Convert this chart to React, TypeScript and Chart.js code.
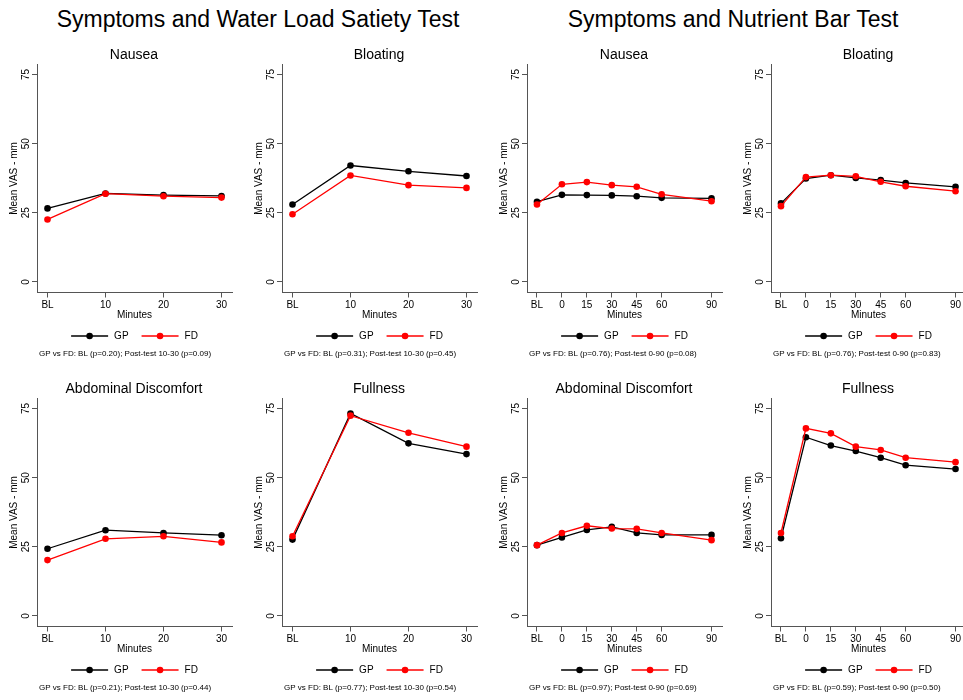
import React, { useEffect, useRef } from 'react';
import { Chart, registerables } from 'chart.js';

Chart.register(...registerables);

const FONT = '"Liberation Sans", Arial, Helvetica, sans-serif';
Chart.defaults.font.family = FONT;
Chart.defaults.color = '#000000';

// ---------- data ----------
const waterMinutes = [0, 10, 20, 30];
const waterTickLabels = ['BL', '10', '20', '30'];
const nutrientMinutes = [-15, 0, 15, 30, 45, 60, 90];
const nutrientTickLabels = ['BL', '0', '15', '30', '45', '60', '90'];
const yTickValues = [0, 25, 50, 75];
const seriesNames = ['GP', 'FD'];

const waterNauseaGP = [26.6, 32.0, 31.4, 31.1];
const waterNauseaFD = [22.6, 31.9, 31.0, 30.5];
const waterBloatingGP = [28.0, 42.1, 40.0, 38.3];
const waterBloatingFD = [24.5, 38.5, 35.0, 34.0];
const waterDiscomfortGP = [24.3, 31.0, 30.0, 29.2];
const waterDiscomfortFD = [20.2, 27.9, 28.8, 26.6];
const waterFullnessGP = [27.6, 73.2, 62.4, 58.5];
const waterFullnessFD = [28.8, 72.4, 66.2, 61.2];

const nutrientNauseaGP = [29.0, 31.5, 31.4, 31.3, 31.0, 30.4, 30.2];
const nutrientNauseaFD = [28.0, 35.3, 36.1, 35.0, 34.4, 31.7, 29.2];
const nutrientBloatingGP = [28.4, 37.4, 38.6, 37.6, 36.8, 35.8, 34.4];
const nutrientBloatingFD = [27.4, 37.9, 38.6, 38.2, 36.2, 34.6, 32.8];
const nutrientDiscomfortGP = [25.6, 28.4, 31.1, 32.2, 30.0, 29.3, 29.3];
const nutrientDiscomfortFD = [25.6, 30.0, 32.6, 31.6, 31.5, 30.0, 27.4];
const nutrientFullnessGP = [28.1, 64.6, 61.6, 59.6, 57.2, 54.5, 53.1];
const nutrientFullnessFD = [30.0, 67.8, 66.0, 61.2, 60.0, 57.2, 55.6];

const mainTitles = ['Symptoms and Water Load Satiety Test', 'Symptoms and Nutrient Bar Test'];

type PanelCfg = {
  title: string;
  note: string;
  minutes: number[];
  labels: string[];
  gp: number[];
  fd: number[];
  water: boolean;
};

const panels: PanelCfg[] = [
  { title: 'Nausea', note: 'GP vs FD: BL (p=0.20); Post-test 10-30 (p=0.09)', minutes: waterMinutes, labels: waterTickLabels, gp: waterNauseaGP, fd: waterNauseaFD, water: true },
  { title: 'Bloating', note: 'GP vs FD: BL (p=0.31); Post-test 10-30 (p=0.45)', minutes: waterMinutes, labels: waterTickLabels, gp: waterBloatingGP, fd: waterBloatingFD, water: true },
  { title: 'Nausea', note: 'GP vs FD: BL (p=0.76); Post-test 0-90 (p=0.08)', minutes: nutrientMinutes, labels: nutrientTickLabels, gp: nutrientNauseaGP, fd: nutrientNauseaFD, water: false },
  { title: 'Bloating', note: 'GP vs FD: BL (p=0.76); Post-test 0-90 (p=0.83)', minutes: nutrientMinutes, labels: nutrientTickLabels, gp: nutrientBloatingGP, fd: nutrientBloatingFD, water: false },
  { title: 'Abdominal Discomfort', note: 'GP vs FD: BL (p=0.21); Post-test 10-30 (p=0.44)', minutes: waterMinutes, labels: waterTickLabels, gp: waterDiscomfortGP, fd: waterDiscomfortFD, water: true },
  { title: 'Fullness', note: 'GP vs FD: BL (p=0.77); Post-test 10-30 (p=0.54)', minutes: waterMinutes, labels: waterTickLabels, gp: waterFullnessGP, fd: waterFullnessFD, water: true },
  { title: 'Abdominal Discomfort', note: 'GP vs FD: BL (p=0.97); Post-test 0-90 (p=0.69)', minutes: nutrientMinutes, labels: nutrientTickLabels, gp: nutrientDiscomfortGP, fd: nutrientDiscomfortFD, water: false },
  { title: 'Fullness', note: 'GP vs FD: BL (p=0.59); Post-test 0-90 (p=0.50)', minutes: nutrientMinutes, labels: nutrientTickLabels, gp: nutrientFullnessGP, fd: nutrientFullnessFD, water: false },
];

// ---------- layout ----------
const CANVAS_W = 245;
const CANVAS_H = 366;
const COL_LEFT = [0, 245, 490, 734];
const ROW_TOP = [0, 334];
const AXIS_COLOR = '#555555';
const SERIES_COLORS = ['#000000', '#ff0000'];

const decorPlugin = {
  id: 'panelDecor',
  afterDraw(chart: any, _args: any, opts: any) {
    const ctx: CanvasRenderingContext2D = chart.ctx;
    const area = chart.chartArea;
    ctx.save();
    ctx.fillStyle = '#000';
    ctx.font = `14px ${FONT}`;
    ctx.textAlign = 'center';
    ctx.textBaseline = 'middle';
    ctx.fillText(opts.title, 134, 55);

    // legend
    ctx.font = `10px ${FONT}`;
    ctx.textAlign = 'left';
    const lineLen = 37;
    const gap = 6;
    const itemGap = 13;
    const ds = chart.data.datasets;
    let total = 0;
    ds.forEach((d: any, i: number) => {
      total += lineLen + gap + ctx.measureText(d.label).width + (i < ds.length - 1 ? itemGap : 0);
    });
    let x = (area.left + area.right) / 2 - total / 2;
    const y = 336;
    ds.forEach((d: any) => {
      ctx.strokeStyle = d.borderColor;
      ctx.lineWidth = 1.3;
      ctx.beginPath();
      ctx.moveTo(x, y);
      ctx.lineTo(x + lineLen, y);
      ctx.stroke();
      ctx.fillStyle = d.borderColor;
      ctx.beginPath();
      ctx.arc(x + lineLen / 2, y, 3.3, 0, Math.PI * 2);
      ctx.fill();
      ctx.fillStyle = '#000';
      ctx.fillText(d.label, x + lineLen + gap, y);
      x += lineLen + gap + ctx.measureText(d.label).width + itemGap;
    });

    // note
    ctx.font = `8px ${FONT}`;
    ctx.textAlign = 'left';
    ctx.fillText(opts.note, 39, 354);
    ctx.restore();
  },
};

function Panel({ cfg, left, top }: { cfg: PanelCfg; left: number; top: number }) {
  const ref = useRef<HTMLCanvasElement>(null);
  useEffect(() => {
    const canvas = ref.current;
    if (!canvas) return;
    const mk = (vals: number[]) => cfg.minutes.map((m, i) => ({ x: m, y: vals[i] }));
    const xMin = cfg.water ? -1.81 : -21.0;
    const xMax = cfg.water ? 31.81 : 96.3;
    const series = [cfg.gp, cfg.fd];
    const chart = new Chart(canvas, {
      type: 'line',
      data: {
        datasets: series.map((vals, i) => ({
          label: seriesNames[i],
          data: mk(vals),
          borderColor: SERIES_COLORS[i],
          backgroundColor: SERIES_COLORS[i],
          pointBackgroundColor: SERIES_COLORS[i],
          pointBorderColor: SERIES_COLORS[i],
          borderWidth: 1.3,
          pointRadius: 3.3,
          pointBorderWidth: 0,
          tension: 0,
          fill: false,
          order: i === 0 ? 1 : 0,
        })),
      },
      options: {
        responsive: false,
        animation: false,
        events: [],
        layout: { padding: { left: 0, right: 13, top: 64.5, bottom: 45 } },
        plugins: {
          legend: { display: false },
          tooltip: { enabled: false },
          title: { display: false },
          panelDecor: { title: cfg.title, note: cfg.note },
        } as any,
        scales: {
          x: {
            type: 'linear',
            min: xMin,
            max: xMax,
            afterBuildTicks: (s: any) => {
              s.ticks = cfg.minutes.map((v) => ({ value: v }));
            },
            afterFit: (s: any) => {
              s.height = 28.5;
            },
            border: { display: true, color: AXIS_COLOR, width: 1 },
            grid: { display: true, drawOnChartArea: false, drawTicks: true, tickLength: 5, color: AXIS_COLOR, tickColor: AXIS_COLOR },
            ticks: {
              autoSkip: false,
              maxRotation: 0,
              minRotation: 0,
              padding: 1.5,
              font: { size: 10, family: FONT },
              color: '#000',
              callback: (_v: any, index: number) => cfg.labels[index],
            },
            title: { display: true, text: 'Minutes', font: { size: 10, family: FONT }, color: '#000', padding: { top: 0, bottom: 0 } },
          },
          y: {
            type: 'linear',
            min: -3.8,
            max: 78.6,
            afterBuildTicks: (s: any) => {
              s.ticks = yTickValues.map((v) => ({ value: v }));
            },
            afterFit: (s: any) => {
              s.width = 37;
            },
            border: { display: true, color: AXIS_COLOR, width: 1 },
            grid: { display: true, drawOnChartArea: false, drawTicks: true, tickLength: 5, color: AXIS_COLOR, tickColor: AXIS_COLOR },
            ticks: {
              minRotation: 90,
              maxRotation: 90,
              crossAlign: 'center',
              padding: 0,
              font: { size: 10, family: FONT },
              color: '#000',
              callback: (v: any) => String(v),
            },
            title: { display: true, text: 'Mean VAS - mm', font: { size: 10, family: FONT }, color: '#000', padding: { top: 8.5, bottom: 0 } },
          },
        },
      } as any,
      plugins: [decorPlugin as any],
    });
    return () => chart.destroy();
  }, [cfg]);
  return (
    <canvas
      ref={ref}
      width={CANVAS_W}
      height={CANVAS_H}
      style={{ position: 'absolute', left, top, width: CANVAS_W, height: CANVAS_H }}
    />
  );
}

export default function App() {
  return (
    <div
      style={{
        position: 'absolute',
        left: 0,
        top: 0,
        width: 963,
        height: 700,
        overflow: 'hidden',
        background: '#ffffff',
        fontFamily: FONT,
      }}
    >
      {mainTitles.map((t, i) => (
        <div
          key={t}
          style={{
            position: 'absolute',
            top: 5,
            left: i === 0 ? 258 - 300 : 733 - 300,
            width: 600,
            textAlign: 'center',
            fontSize: 23,
            lineHeight: '28px',
            color: '#000',
            whiteSpace: 'nowrap',
          }}
        >
          {t}
        </div>
      ))}
      {panels.map((p, i) => (
        <Panel key={i} cfg={p} left={COL_LEFT[i % 4]} top={ROW_TOP[Math.floor(i / 4)]} />
      ))}
    </div>
  );
}
